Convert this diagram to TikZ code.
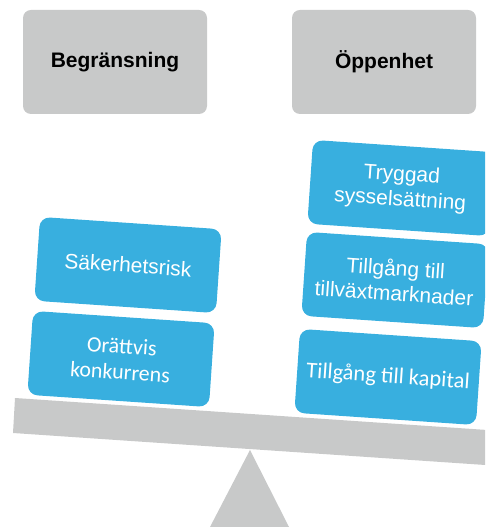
\documentclass[tikz,border=0pt]{standalone}
\usepackage{fontspec}
\setmainfont{Liberation Sans}
\newfontfamily\calfont{Carlito}
\definecolor{boxgray}{HTML}{C8C9C9}
\definecolor{boxblue}{HTML}{38AFDF}

\begin{document}
\begin{tikzpicture}[x=1pt,y=1pt,
    headbox/.style={fill=boxgray,rounded corners=8pt,minimum width=184pt,minimum height=104pt,
      font=\fontsize{21}{25}\selectfont\bfseries},
    itembox/.style={fill=boxblue,rounded corners=10pt,minimum width=182pt,minimum height=84pt,
      text=white,align=center,rotate=-3.9,font=\fontsize{21}{25}\selectfont}]
      \useasboundingbox (0,0) rectangle (485,527);
      \clip (0,0) rectangle (485,527);
      % stand and beam
      \fill[boxgray] (250,77) -- (289,0) -- (210,0) -- cycle;
      \fill[boxgray] (15,129) -- (13,94) -- (500,61) -- (502,96) -- cycle;
      % headings
      \node[headbox] (limit) at (115,465) {Begränsning};
      \node[headbox] (open) at (384,465) {Öppenhet};
      % left pan
      \node[itembox] (risk) at (128,262) {Säkerhetsrisk};
      \node[itembox,font=\fontsize{22}{26}\selectfont\calfont] (unfair) at (121,168) {Orättvis\\konkurrens};
      % right pan
      \node[itembox] (jobs) at (401,339) {Tryggad\\sysselsättning};
      \node[itembox] (markets) at (395,247) {Tillgång till\\tillväxtmarknader};
      \node[itembox,font=\fontsize{22.5}{26}\selectfont\calfont] (capital) at (388,150) {Tillgång till kapital};
     \end{tikzpicture}
\end{document}
